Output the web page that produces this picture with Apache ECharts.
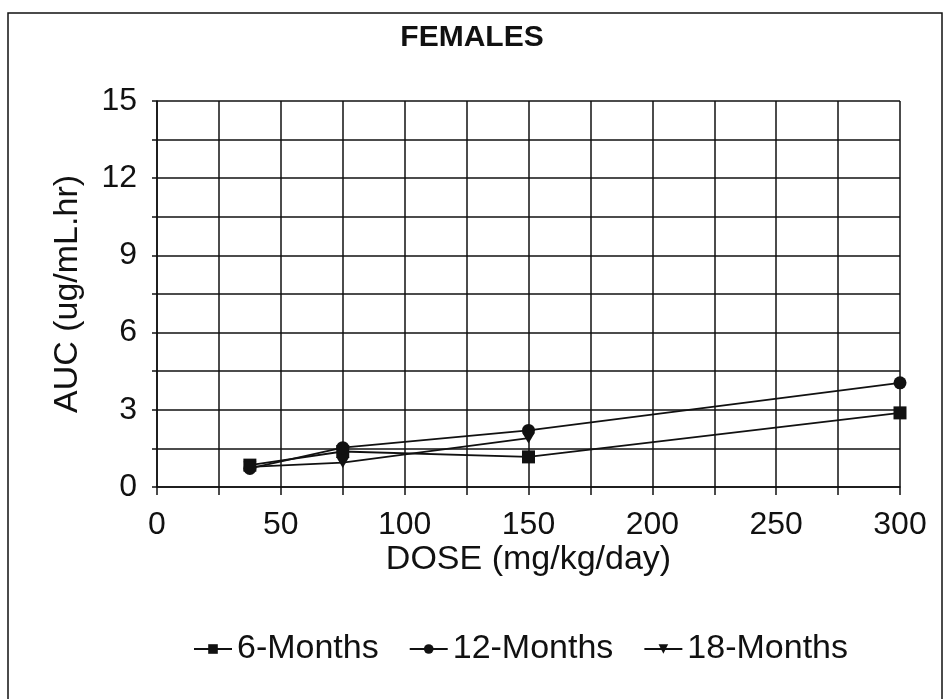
<!DOCTYPE html>
<html>
<head>
<meta charset="utf-8">
<script src="https://cdn.jsdelivr.net/npm/echarts@6/dist/echarts.min.js"></script>
<style>
  html, body { margin: 0; padding: 0; background: #fff; }
  #chart { width: 944px; height: 699px; }
</style>
</head>
<body>
<div id="chart"></div>
<script>
// AUC vs. dose for females at three study time points
const titleText = 'FEMALES';
const xName = 'DOSE (mg/kg/day)';
const yName = 'AUC (ug/mL.hr)';
const seriesNames = ['6-Months', '12-Months', '18-Months'];

const doses = [37.5, 75, 150, 300];
const auc6 = [0.85, 1.38, 1.17, 2.88];
const auc12 = [0.72, 1.53, 2.2, 4.05];
const auc18 = [0.78, 0.95, 1.9, null];

const xTicks = [0, 50, 100, 150, 200, 250, 300];
const yTicks = [0, 3, 6, 9, 12, 15];

const FONT = "'Liberation Sans', Arial, sans-serif";
const INK = '#111';

function pairs(vals) {
  return doses.map((d, i) => [d, vals[i]]).filter(p => p[1] !== null);
}

const chart = echarts.init(document.getElementById('chart'), null, { renderer: 'canvas' });

const lineCommon = {
  type: 'line',
  symbolSize: 13,
  lineStyle: { color: INK, width: 1.8 },
  itemStyle: { color: INK },
  emphasis: { disabled: true },
  animation: false
};

chart.setOption({
  backgroundColor: '#fff',
  animation: false,
  title: {
    text: titleText,
    left: 'center',
    top: 18,
    textStyle: { fontFamily: FONT, fontSize: 30, fontWeight: 'bold', color: INK }
  },
  graphic: [{
    type: 'rect',
    shape: { x: 8, y: 13, width: 934, height: 690 },
    style: { fill: 'none', stroke: INK, lineWidth: 1.5 },
    silent: true
  }],
  legend: {
    bottom: 28,
    left: 188,
    itemWidth: 38,
    itemHeight: 12,
    itemGap: 30,
    data: seriesNames,
    textStyle: { fontFamily: FONT, fontSize: 34, color: INK }
  },
  grid: { left: 157, right: 44, top: 101, bottom: 212, containLabel: false },
  xAxis: {
    type: 'value',
    min: 0,
    max: 300,
    interval: 25,
    name: xName,
    nameLocation: 'middle',
    nameGap: 56,
    nameMoveOverlap: false,
    nameTextStyle: { fontFamily: FONT, fontSize: 34, color: INK },
    axisLine: { show: true, lineStyle: { color: INK, width: 1.5 } },
    axisTick: { show: true, inside: false, length: 8, lineStyle: { color: INK, width: 1.5 } },
    axisLabel: {
      margin: 22,
      fontFamily: FONT, fontSize: 32, color: INK,
      formatter: v => (xTicks.includes(v) ? String(v) : '')
    },
    splitLine: { show: true, lineStyle: { color: INK, width: 1.5 } }
  },
  yAxis: {
    type: 'value',
    min: 0,
    max: 15,
    interval: 1.5,
    name: yName,
    nameLocation: 'middle',
    nameGap: 72,
    nameTextStyle: { fontFamily: FONT, fontSize: 34, color: INK },
    axisLine: { show: true, lineStyle: { color: INK, width: 1.5 } },
    axisTick: { show: true, inside: false, length: 5, lineStyle: { color: INK, width: 1.5 } },
    axisLabel: {
      margin: 20,
      fontFamily: FONT, fontSize: 32, color: INK,
      formatter: v => (yTicks.some(t => Math.abs(t - v) < 1e-6) ? String(Math.round(v)) : '')
    },
    splitLine: { show: true, lineStyle: { color: INK, width: 1.5 } }
  },
  series: [
    Object.assign({}, lineCommon, {
      name: seriesNames[0], symbol: 'rect', symbolSize: 13, data: pairs(auc6)
    }),
    Object.assign({}, lineCommon, {
      name: seriesNames[1], symbol: 'circle', symbolSize: 13, data: pairs(auc12)
    }),
    Object.assign({}, lineCommon, {
      name: seriesNames[2], symbol: 'triangle', symbolRotate: 180, symbolSize: [13, 11], data: pairs(auc18)
    })
  ]
});
</script>
</body>
</html>
